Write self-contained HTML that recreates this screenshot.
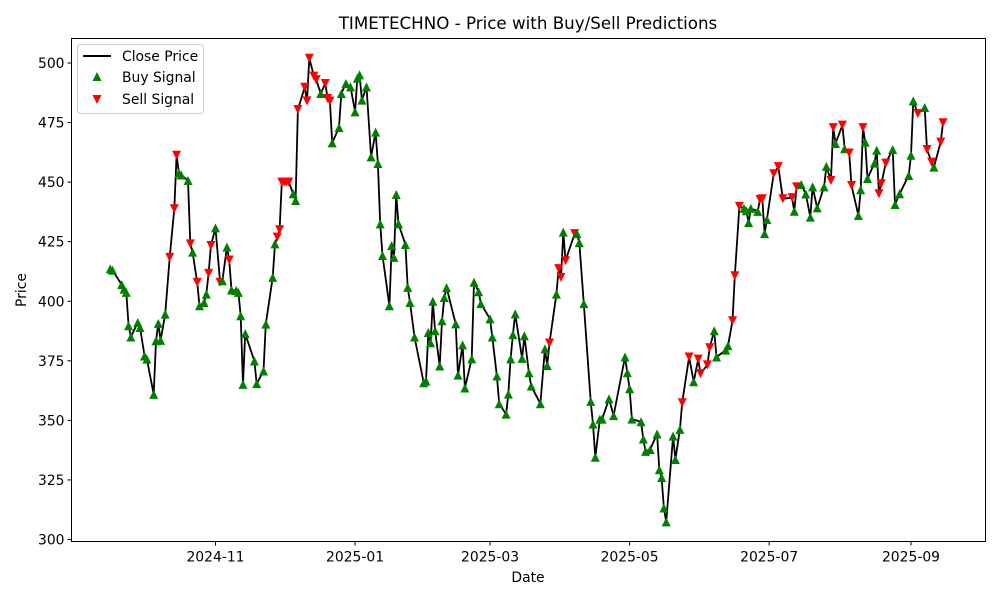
<!DOCTYPE html>
<html><head><meta charset="utf-8"><style>
html,body{margin:0;padding:0;background:#fff;}
svg{display:block;font-family:"DejaVu Sans","Liberation Sans",sans-serif;}
</style></head><body>
<svg id="chart" width="1000" height="600" viewBox="0 0 1000 600">
<rect x="0" y="0" width="1000" height="600" fill="#fff"/>
<text x="528" y="29" text-anchor="middle" font-size="16.7">TIMETECHNO - Price with Buy/Sell Predictions</text>
<g id="plot"></g>
<text x="528" y="582" text-anchor="middle" font-size="13.9">Date</text>
<text x="26" y="290" text-anchor="middle" font-size="13.9" transform="rotate(-90 26 290)">Price</text>
<g>
<rect x="77.5" y="44.5" width="126" height="69" fill="#fff" fill-opacity="0.8" stroke="#ccc" rx="3"/>
<line x1="83" y1="56" x2="111" y2="56" stroke="#000" stroke-width="2"/>
<text x="122" y="61" font-size="13.9">Close Price</text>
<polygon points="97,72 101.5,81 92.5,81" fill="green"/>
<text x="122" y="82" font-size="13.9">Buy Signal</text>
<polygon points="92.5,95 101.5,95 97,104" fill="red"/>
<text x="122" y="104" font-size="13.9">Sell Signal</text>
</g>
</svg>
<script>
// day offsets from 2024-09-01
const dayOffsets = [15,16,20,21,22,23,24,27,28,30,31,34,35,36,37,39,41,43,44,45,46,49,50,51,53,54,56,57,58,59,61,63,64,66,67,68,70,71,72,73,74,78,79,82,83,86,87,88,89,90,91,92,93,95,96,97,100,101,102,104,105,107,109,110,111,112,115,116,118,120,122,123,124,125,127,129,131,132,133,134,137,138,139,140,141,144,145,146,148,152,153,154,155,156,157,159,160,161,162,166,167,169,170,173,174,176,177,181,182,184,185,188,189,190,191,192,195,196,198,199,203,205,206,207,210,211,212,213,214,218,219,220,222,225,226,227,229,230,233,235,240,241,242,243,247,248,249,251,254,255,256,257,258,261,262,264,265,268,270,272,273,276,277,279,280,284,285,287,288,290,292,293,294,295,298,299,300,301,302,305,307,309,313,314,315,317,319,321,322,324,327,328,330,331,332,335,336,338,339,342,343,344,345,346,349,350,351,352,354,357,358,360,364,365,366,368,371,372,374,375,378,379];
const closePrices = [413.6,413,407,405.1,403.7,389.7,385,391.1,389,377,375.7,360.9,383.4,390.7,383.6,394.6,418.4,438.8,461.3,453.8,453,450.7,424.1,420.6,407.9,398.1,399.5,403,411.7,423.4,430.8,407.9,408.6,422.7,417.3,404.7,404.5,403.7,393.9,365.1,386.4,374.9,365.4,370.7,390.4,410,424.1,426.9,430,450,450,450,450,445.1,442.3,480.5,489.8,484.1,502,494.5,493,487.2,491.4,485.1,484,466.5,472.9,487.2,491.4,490,479.5,493.6,495,484.4,490,460.6,471,457.8,432.5,419.2,398.1,423.4,418.4,444.8,432.5,423.8,405.8,399.5,385,365.8,366.5,386.9,382.6,400,387.6,372.8,391.8,401.6,405.7,390.5,369,381.7,363.6,375.8,408,404,399,392.6,385,368.6,357,352.6,361,375.8,386,394.7,376,385.5,370,364.4,357,380,373,382.5,403,413.7,410,429,417,428.4,428.4,424.6,399,358,348.4,334.5,350.5,350.5,359,352,376.6,370,363.3,350.5,349.4,342.2,337,337.8,344.3,329.3,326,313.2,307.4,343.4,333.6,346.2,357.4,376.6,366.2,375.7,369.6,373.3,380.5,387.6,376.6,379.5,381.3,391.8,410.7,439.8,439,438,433,439,437.7,442.7,443,428.4,434.3,453.5,456.5,443,443.5,437.8,448,449,445,435.3,448,439.2,448,456.6,450.7,472.9,466.2,473.9,464,462.2,448.6,436,446.8,472.9,466.8,451.5,458,463.4,445.1,449.3,458,463.7,440.6,445.1,452.8,461.3,484.1,478.8,481.3,463.7,458.4,456.3,466.8,474.9];
const signals = "BBBBBBBBBBBBBBBBSSSBBBSBSBBBSSBSBBSBBBBBBBBBBBBSSSSSSBBSSSSSSBSSSBBBBBBBBBBBBBBBBBBBBBBBBBBBBBBBBBBBBBBBBBBBBBBBBBBBBBBBBBBSBSSBSSBBBBBBBBBBBBBBBBBBBBBBBBBBSSBSSSSBBBBSSSBBBBBSSBBSSSSBSBBBBBBBSSBSBSSBBSBBBBSSSBBBBBBSBSSBSSS".split("");
const yTicks = [300,325,350,375,400,425,450,475,500];
const xTickLabels = ["2024-11","2025-01","2025-03","2025-05","2025-07","2025-09"];
const xTickDays = [61,122,181,242,303,365];

const NS="http://www.w3.org/2000/svg";
const plot=document.getElementById('plot');
const L=71.5,R=985.5,T=38.5,B=541.5;
function xs(d){return 215.5+(d-61)*(911-215.5)/(365-61);}
function ys(v){return 539.5-(v-300)*(539.5-63)/200;}
function mk(tag,attrs){const e=document.createElementNS(NS,tag);for(const k in attrs)e.setAttribute(k,attrs[k]);return e;}

let pts=dayOffsets.map((d,i)=>xs(d).toFixed(1)+","+ys(closePrices[i]).toFixed(1)).join(" ");
const line=mk('polyline',{points:pts,fill:'none',stroke:'#000','stroke-width':1.8,'stroke-linejoin':'round'});


plot.appendChild(line);

dayOffsets.forEach((d,i)=>{
  const x=xs(d),y=ys(closePrices[i]);
  let p;
  if(signals[i]==='S'){
    p=mk('polygon',{points:`${x-4.5},${y-4.5} ${x+4.5},${y-4.5} ${x},${y+4.5}`,fill:'red'});
    
  } else {
    p=mk('polygon',{points:`${x},${y-4.5} ${x+4.5},${y+4.5} ${x-4.5},${y+4.5}`,fill:'green'});
    
  }
  
  plot.appendChild(p);
});

const frame=mk('rect',{x:L,y:T,width:R-L,height:B-T,fill:'none',stroke:'#000','stroke-width':1});


plot.appendChild(frame);

yTicks.forEach(v=>{
  const y=ys(v);
  const t=mk('line',{x1:L-4,y1:y,x2:L,y2:y,stroke:'#000'});
  
  
  plot.appendChild(t);
  const tx=mk('text',{x:L-7,y:y+5,'text-anchor':'end','font-size':13.9});
  tx.textContent=v;
  
  
  plot.appendChild(tx);
});
xTickDays.forEach((d,i)=>{
  const x=xs(d);
  const t=mk('line',{x1:x,y1:B,x2:x,y2:B+4,stroke:'#000'});
  
  
  plot.appendChild(t);
  const tx=mk('text',{x:x,y:B+20,'text-anchor':'middle','font-size':13.9});
  tx.textContent=xTickLabels[i];
  
  
  plot.appendChild(tx);
});
</script>
</body></html>
